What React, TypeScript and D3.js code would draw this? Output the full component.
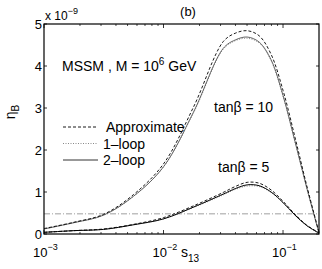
import * as d3 from 'd3';

// s13 sample points (log spaced)
const s13 = [0.001, 0.00178, 0.00316, 0.00562, 0.01, 0.0178, 0.0316, 0.0398, 0.0501, 0.0631, 0.0794, 0.1, 0.126, 0.158, 0.2];

// eta_B in units of 1e-9
const tan10Approx = [0.13, 0.28, 0.47, 0.94, 1.67, 3.02, 4.58, 4.78, 4.84, 4.72, 4.28, 3.42, 2.3, 1.15, 0.04];
const tan10OneLoop = [0.12, 0.27, 0.45, 0.9, 1.6, 2.88, 4.4, 4.6, 4.66, 4.55, 4.13, 3.28, 2.19, 1.09, 0.02];
const tan10TwoLoop = [0.12, 0.27, 0.45, 0.9, 1.6, 2.9, 4.42, 4.62, 4.69, 4.57, 4.15, 3.3, 2.2, 1.1, 0.02];

const tan5Approx = [0.04, 0.08, 0.12, 0.23, 0.39, 0.67, 0.99, 1.13, 1.23, 1.21, 1.05, 0.78, 0.47, 0.21, 0.03];
const tan5OneLoop = [0.04, 0.08, 0.11, 0.22, 0.36, 0.63, 0.93, 1.06, 1.14, 1.13, 0.99, 0.74, 0.44, 0.2, 0.02];
const tan5TwoLoop = [0.04, 0.08, 0.11, 0.22, 0.36, 0.64, 0.95, 1.08, 1.17, 1.15, 1.0, 0.75, 0.45, 0.2, 0.02];

const observed = 0.48;

const yTicks = [0, 1, 2, 3, 4, 5];
const xMajor = [0.001, 0.01, 0.1];
const xMajorExp = ['−3', '−2', '−1'];

const W = 322;
const H = 269;
const font = 'Liberation Sans, Arial, Helvetica, sans-serif';

export default function App() {
  const x = d3.scaleLog().domain([0.001, 0.2]).range([44, 319]);
  const y = d3.scaleLinear().domain([0, 5]).range([234, 24]);

  const line = d3.line<number>()
    .x((_, i) => x(s13[i]))
    .y(d => y(d))
    .curve(d3.curveCatmullRom);

  const minor: number[] = [];
  for (const dec of [0.001, 0.01, 0.1]) {
    for (let k = 2; k <= 9; k++) {
      const v = dec * k;
      if (v < 0.2) minor.push(v);
    }
  }

  const [x0, x1] = x.range();
  const [yb, yt] = y.range();

  const series = [
    { data: tan10OneLoop, dash: '1,1.5', color: '#888', w: 1 },
    { data: tan10TwoLoop, dash: null, color: '#555', w: 0.9 },
    { data: tan10Approx, dash: '3,2', color: '#000', w: 0.9 },
    { data: tan5OneLoop, dash: '1,1.5', color: '#888', w: 1 },
    { data: tan5TwoLoop, dash: null, color: '#000', w: 1 },
    { data: tan5Approx, dash: '3,2', color: '#000', w: 0.9 },
  ];

  return (
    <div style={{ position: 'absolute', left: 0, top: 0 }}>
      <svg width={W} height={H} style={{ display: 'block', background: '#fff' }} fontFamily={font}>
        {/* observed value */}
        <line x1={x0} x2={x1} y1={y(observed)} y2={y(observed)} stroke="#888" strokeWidth={0.8} strokeDasharray="6,2,1,2" />

        {series.map((s, i) => (
          <path key={i} d={line(s.data) || ''} fill="none" stroke={s.color} strokeWidth={s.w}
            strokeDasharray={s.dash || undefined} />
        ))}

        {/* box */}
        <rect x={x0} y={yt} width={x1 - x0} height={yb - yt} fill="none" stroke="#000" strokeWidth={1.2} />

        {/* y ticks */}
        {yTicks.map(t => (
          <g key={t}>
            <line x1={x0} x2={x0 + 3} y1={y(t)} y2={y(t)} stroke="#000" strokeWidth={0.8} />
            <line x1={x1} x2={x1 - 3} y1={y(t)} y2={y(t)} stroke="#000" strokeWidth={0.8} />
            <text x={x0 - 2} y={y(t) + 4.5} fontSize={13} textAnchor="end">{t}</text>
          </g>
        ))}

        {/* x ticks */}
        {xMajor.map((t, i) => (
          <g key={t}>
            <line x1={x(t)} x2={x(t)} y1={yb} y2={yb - 4} stroke="#000" strokeWidth={0.8} />
            <line x1={x(t)} x2={x(t)} y1={yt} y2={yt + 4} stroke="#000" strokeWidth={0.8} />
            <text x={x(t) - 11} y={257} fontSize={13}>10<tspan dy={-7} fontSize={9}>{xMajorExp[i]}</tspan></text>
          </g>
        ))}
        {minor.map(t => (
          <g key={t}>
            <line x1={x(t)} x2={x(t)} y1={yb} y2={yb - 2} stroke="#000" strokeWidth={0.7} />
            <line x1={x(t)} x2={x(t)} y1={yt} y2={yt + 2} stroke="#000" strokeWidth={0.7} />
          </g>
        ))}

        {/* multiplier */}
        <text x={45} y={20} fontSize={12}>x 10<tspan dy={-6} fontSize={9}>−9</tspan></text>

        <text x={188} y={16} fontSize={13} textAnchor="middle">(b)</text>

        {/* axis labels */}
        <text x={181} y={257} fontSize={14}>s<tspan dy={5} fontSize={10}>13</tspan></text>
        <text transform="translate(15,112) rotate(-90)" fontSize={14} textAnchor="middle">η<tspan dy={4} fontSize={10}>B</tspan></text>

        <text x={62} y={71} fontSize={14}>MSSM , M = 10<tspan dy={-6} fontSize={10}>6</tspan><tspan dy={6}> GeV</tspan></text>

        {/* legend */}
        <line x1={63} x2={98} y1={127} y2={127} stroke="#000" strokeWidth={0.9} strokeDasharray="3,2" />
        <text x={106} y={132} fontSize={14}>Approximate</text>
        <line x1={63} x2={98} y1={143.5} y2={143.5} stroke="#888" strokeWidth={1} strokeDasharray="1,1.5" />
        <text x={103} y={148.5} fontSize={14}>1–loop</text>
        <line x1={63} x2={98} y1={160} y2={160} stroke="#333" strokeWidth={1} />
        <text x={103} y={165} fontSize={14}>2–loop</text>

        <text x={214} y={112} fontSize={14}>tanβ = 10</text>
        <text x={218} y={172} fontSize={14}>tanβ = 5</text>
      </svg>
    </div>
  );
}
